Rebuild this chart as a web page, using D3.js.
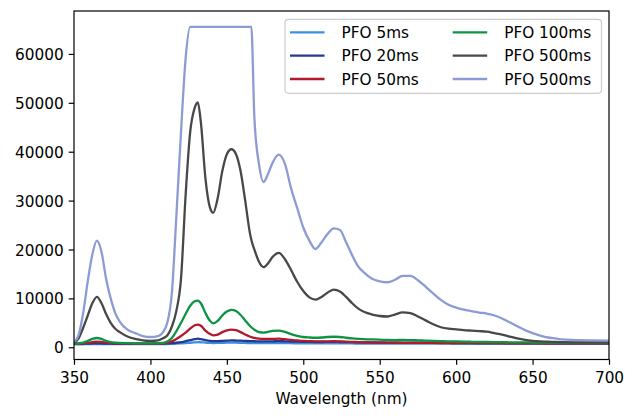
<!DOCTYPE html>
<html><head><meta charset="utf-8">
<script src="https://cdn.jsdelivr.net/npm/d3@7"></script>
<style>body{margin:0;background:#fff}svg{display:block}text{font-family:"DejaVu Sans",sans-serif}</style>
</head><body><svg id="c" width="636" height="419"></svg>
<script>
const wavelengths = [350,353,356,359,362,365,368,371,374,377,380,
 385,390,395,400,405,
 408,411,414,417,420,423,426,429,
 431,433,436,439,441,444,447,450,453,456,459,462,465,466,468,471,474,477,480,
 484,488,492,496,500,504,508,512,516,520,524,528,532,536,540,
 545,550,555,560,565,570,575,580,585,590,595,600,605,610,615,620,625,630,635,640,645,650,655,660,665,670,
 680,690,700];

const pfo5 = [600,610,620,640,650,660,650,640,630,630,630,
 630,630,630,630,640,
 650,660,690,730,780,850,930,1000,
 1050,1020,950,900,880,890,920,950,960,950,920,890,860,860,850,840,840,850,850,
 850,840,830,820,810,800,800,800,800,800,790,780,780,770,770,
 760,760,750,750,750,740,740,740,730,730,730,720,720,720,710,710,710,700,700,700,700,690,690,690,690,680,
 680,680,680];
const pfo20 = [700,700,720,750,780,800,780,750,730,720,720,
 720,720,720,720,730,
 750,780,850,950,1050,1250,1450,1650,
 1750,1650,1450,1300,1250,1250,1300,1350,1400,1380,1350,1300,1250,1250,1230,1220,1200,1200,1220,
 1250,1220,1180,1150,1120,1100,1080,1080,1090,1100,1080,1060,1040,1020,1000,
 990,980,970,960,960,950,940,930,920,910,900,900,890,880,870,860,860,850,850,840,840,830,830,820,820,810,
 800,800,790];
const pfo50 = [700,720,780,900,1050,1150,1100,950,850,800,780,
 760,750,740,740,750,
 800,950,1200,1700,2300,3000,3800,4500,
 4650,4400,3400,2700,2450,2600,3100,3450,3600,3500,3100,2600,2200,2100,1900,1750,1700,1700,1720,
 1750,1650,1500,1400,1300,1250,1200,1200,1220,1230,1200,1150,1100,1050,1000,
 980,960,940,930,920,910,900,890,880,870,860,860,850,850,840,840,830,830,820,820,820,810,810,810,800,800,
 800,790,790];
const pfo100 = [750,800,950,1300,1700,1900,1700,1300,1050,950,900,
 850,800,780,780,800,
 900,1200,1900,3300,5000,6800,8500,9400,
 9550,9000,7000,5400,4900,5400,6500,7300,7650,7400,6600,5500,4400,4100,3600,3100,3000,3150,3350,
 3420,3150,2700,2350,2100,2000,1950,2000,2100,2150,2100,1950,1800,1700,1650,
 1600,1550,1500,1480,1500,1480,1420,1350,1300,1250,1200,1180,1150,1120,1100,1080,1060,1040,1020,1000,990,980,970,960,960,950,
 950,940,940];
const pfo500a = [900,1800,4000,6500,9000,10300,9000,6800,5000,3800,3100,
 2200,1700,1400,1300,1400,
 1800,2400,4200,7500,14000,31000,44000,49000,
 50100,46000,34500,28500,27500,30500,36000,39500,40500,39500,36000,30000,23500,22000,20000,17500,16400,17200,18500,
 19300,18000,15800,13400,11500,10200,9750,10300,11200,11800,11400,10300,9000,7900,7200,
 6700,6400,6300,6700,7150,7000,6300,5500,4700,4100,3800,3650,3500,3400,3300,3200,2900,2600,2200,1800,1500,1300,1200,1150,1100,1050,
 1000,1000,1000];
const pfo500b = [1100,2500,7000,13500,19000,21800,19500,14000,10000,7000,5200,
 3600,2900,2300,2100,2300,
 3000,5000,11000,27000,44000,59000,65535,65535,
 65535,65535,65535,65535,65535,65535,65535,65535,65535,65535,65535,65535,65535,65535,47000,37500,33800,35500,37800,
 39400,37500,32500,28500,24500,21800,20100,21500,23200,24300,24000,21500,18800,16500,15200,
 14000,13500,13300,13800,14600,14600,13700,12400,11000,9700,8700,8100,7700,7400,7100,6900,6500,5900,5100,4300,3500,2900,2400,2000,1800,1600,
 1450,1400,1350];

const seriesNames = ["PFO 5ms","PFO 20ms","PFO 50ms","PFO 100ms","PFO 500ms","PFO 500ms"];
const seriesValues = [pfo5,pfo20,pfo50,pfo100,pfo500a,pfo500b];
const seriesColors = ["#3c8fe2","#25398f","#b3182d","#0c9444","#484848","#8d9bd5"];
const xTicks = [350,400,450,500,550,600,650,700];
const yTicks = [0,10000,20000,30000,40000,50000,60000];

const L=74,R=609,T=11,B=359.5, FS=15.3;
const svg = d3.select("#c");
const x = d3.scaleLinear().domain([350,700]).range([L,R]);
const y = d3.scaleLinear().domain([-2500,68780]).range([B,T]);

svg.append("defs").append("clipPath").attr("id","clip").append("rect")
  .attr("x",L).attr("y",T).attr("width",R-L).attr("height",B-T);

const line = d3.line().x((d,i)=>x(wavelengths[i])).y(d=>y(d)).curve(d3.curveMonotoneX);
const g = svg.append("g").attr("clip-path","url(#clip)");
seriesValues.forEach((vals,k)=>{
  g.append("path").datum(vals).attr("d",line).attr("fill","none")
   .attr("stroke",seriesColors[k]).attr("stroke-width",2.3).attr("stroke-linejoin","round");
});

// axes
const xa = svg.append("g").attr("transform",`translate(0,${B})`)
  .call(d3.axisBottom(x).tickValues(xTicks).tickFormat(d3.format("d")).tickSizeInner(5.3).tickSizeOuter(0).tickPadding(4));
const ya = svg.append("g").attr("transform",`translate(${L},0)`)
  .call(d3.axisLeft(y).tickValues(yTicks).tickFormat(d3.format("d")).tickSizeInner(5.3).tickSizeOuter(0).tickPadding(5));
[xa,ya].forEach(a=>{
  a.select(".domain").remove();
  a.selectAll(".tick line").attr("stroke","#000").attr("stroke-width",1.2);
  a.selectAll(".tick text").attr("font-size",FS).attr("fill","#000").attr("font-family","DejaVu Sans");
});
xa.selectAll(".tick text").attr("dy","0.95em");
ya.selectAll(".tick text").attr("dy","0.36em");

svg.append("rect").attr("x",L).attr("y",T).attr("width",R-L).attr("height",B-T)
  .attr("fill","none").attr("stroke","#000").attr("stroke-width",1.2);

svg.append("text").attr("x",(L+R)/2).attr("y",404).attr("text-anchor","middle")
  .attr("font-size",FS).text("Wavelength (nm)");

// legend
const lg = svg.append("g");
lg.append("rect").attr("x",285).attr("y",19.3).attr("width",316.5).attr("height",74)
  .attr("rx",3.5).attr("fill","#fff").attr("fill-opacity",0.8).attr("stroke","#ccc").attr("stroke-width",1.2);
const colX=[290,452.7], rowY=[32.3,55.6,79];
seriesNames.forEach((n,k)=>{
  const cx = colX[Math.floor(k/3)], cy = rowY[k%3];
  lg.append("line").attr("x1",cx).attr("x2",cx+34.5).attr("y1",cy).attr("y2",cy)
    .attr("stroke",seriesColors[k]).attr("stroke-width",2.3);
  lg.append("text").attr("x",cx+51.5).attr("y",cy).attr("dy","0.36em").attr("font-size",FS).text(n);
});
</script></body></html>
